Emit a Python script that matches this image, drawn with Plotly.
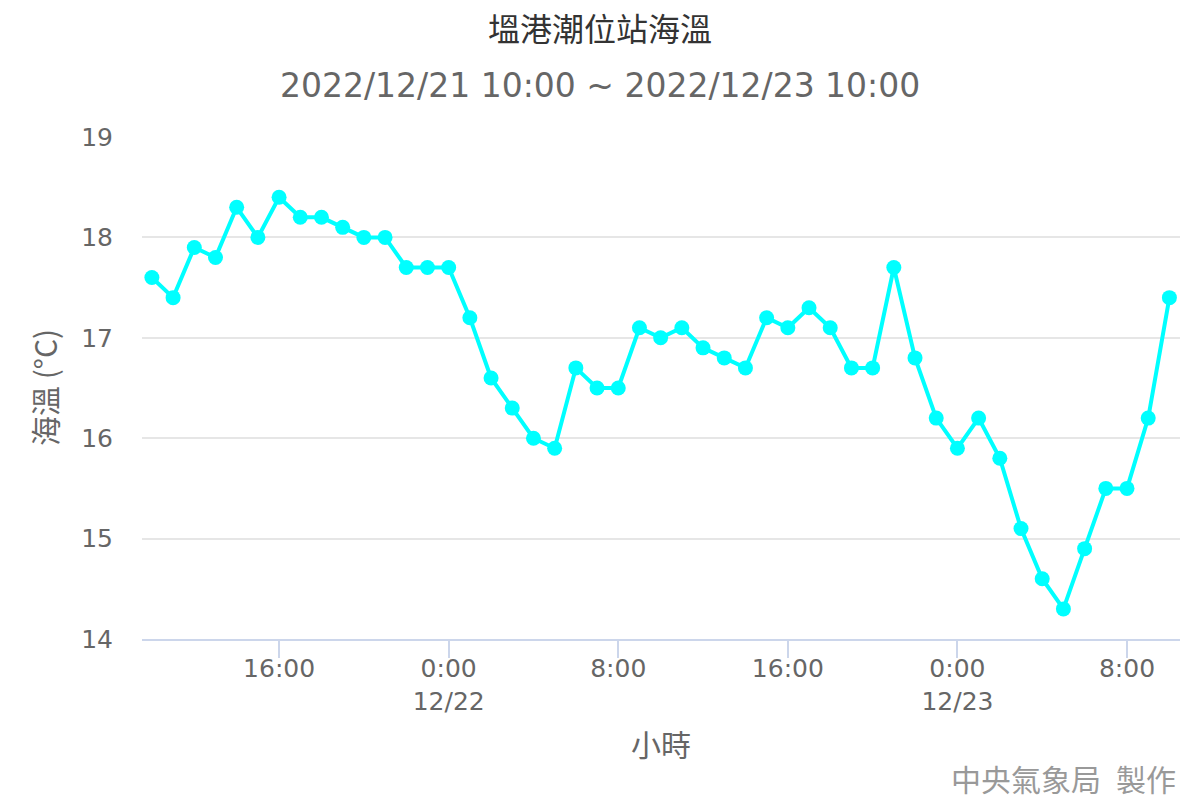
import plotly.graph_objects as go
import pandas as pd

# Data: hourly sea temperature, 2022/12/21 10:00 ~ 2022/12/23 10:00
start_time = "2022-12-21 10:00"
temps = [
    17.6, 17.4, 17.9, 17.8, 18.3, 18.0, 18.4, 18.2, 18.2, 18.1, 18.0, 18.0,
    17.7, 17.7, 17.7, 17.2, 16.6, 16.3, 16.0, 15.9, 16.7, 16.5, 16.5, 17.1,
    17.0, 17.1, 16.9, 16.8, 16.7, 17.2, 17.1, 17.3, 17.1, 16.7, 16.7, 17.7,
    16.8, 16.2, 15.9, 16.2, 15.8, 15.1, 14.6, 14.3, 14.9, 15.5, 15.5, 16.2,
    17.4,
]
times = pd.date_range(start=start_time, periods=len(temps), freq="h")

tick_vals = ["2022-12-21 16:00", "2022-12-22 00:00", "2022-12-22 08:00",
             "2022-12-22 16:00", "2022-12-23 00:00", "2022-12-23 08:00"]
tick_text = ["16:00", "0:00<br>12/22", "8:00", "16:00", "0:00<br>12/23", "8:00"]
y_ticks = [14, 15, 16, 17, 18, 19]

title_text = "塭港潮位站海溫"
subtitle_text = "2022/12/21 10:00 ~ 2022/12/23 10:00"
x_title = "小時"
y_title = "海溫 (°C)"
credit_text = "中央氣象局\u2002製作"

font_main = "DejaVu Sans, Noto Sans CJK TC, sans-serif"
font_cjk = "Noto Sans CJK TC, DejaVu Sans, sans-serif"

fig = go.Figure()
fig.add_trace(go.Scatter(
    x=times, y=temps, mode="lines+markers",
    line=dict(color="#00FFFF", width=4),
    marker=dict(color="#00FFFF", size=15),
    showlegend=False,
))

L, R, T, B = 142, 20, 137, 161
plot_w = 1200 - L - R
plot_h = 800 - T - B

fig.update_layout(
    width=1200, height=800,
    margin=dict(l=L, r=R, t=T, b=B),
    paper_bgcolor="white", plot_bgcolor="white",
    font=dict(family=font_main, color="#666666"),
    title=dict(text=title_text, x=0.5, xanchor="center", y=1 - 30 / 800,
               yanchor="middle", font=dict(family=font_cjk, size=32, color="#333333")),
    xaxis=dict(
        range=["2022-12-21 09:32", "2022-12-23 10:30"],
        tickvals=tick_vals, ticktext=tick_text,
        showgrid=False, showline=True, linecolor="#ccd6eb", linewidth=2,
        ticks="outside", ticklen=17, tickcolor="#ccd6eb", tickwidth=2,
        tickfont=dict(size=25, color="#666666"),
        ticklabelstandoff=-11,
        zeroline=False,
    ),
    yaxis=dict(
        range=[14, 19], tickvals=y_ticks,
        showgrid=True, gridcolor="#e6e6e6", gridwidth=2,
        showline=False, zeroline=False, ticks="",
        tickfont=dict(size=25, color="#666666"),
        ticklabelstandoff=28,
    ),
    annotations=[
        dict(text=subtitle_text, xref="paper", yref="paper",
             x=(600 - L) / plot_w, y=(T + plot_h - 85) / plot_h,
             xanchor="center", yanchor="middle", showarrow=False,
             font=dict(size=33, color="#666666", family=font_main)),
        dict(text=x_title, xref="paper", yref="paper",
             x=0.5, y=(T + plot_h - 743) / plot_h,
             xanchor="center", yanchor="middle", showarrow=False,
             font=dict(size=30, color="#666666", family=font_cjk)),
        dict(text=y_title, xref="paper", yref="paper",
             x=(44 - L) / plot_w, y=(T + plot_h - 388) / plot_h,
             xanchor="center", yanchor="middle", showarrow=False, textangle=-90,
             font=dict(size=30, color="#666666", family=font_cjk)),
        dict(text=credit_text, xref="paper", yref="paper",
             x=(1178 - L) / plot_w, y=(T + plot_h - 778) / plot_h,
             xanchor="right", yanchor="middle", showarrow=False,
             font=dict(size=30, color="#999999", family=font_cjk)),
    ],
)

fig.write_html("out.html", config={"displayModeBar": False},
               post_script="document.body.style.margin='0px';")
